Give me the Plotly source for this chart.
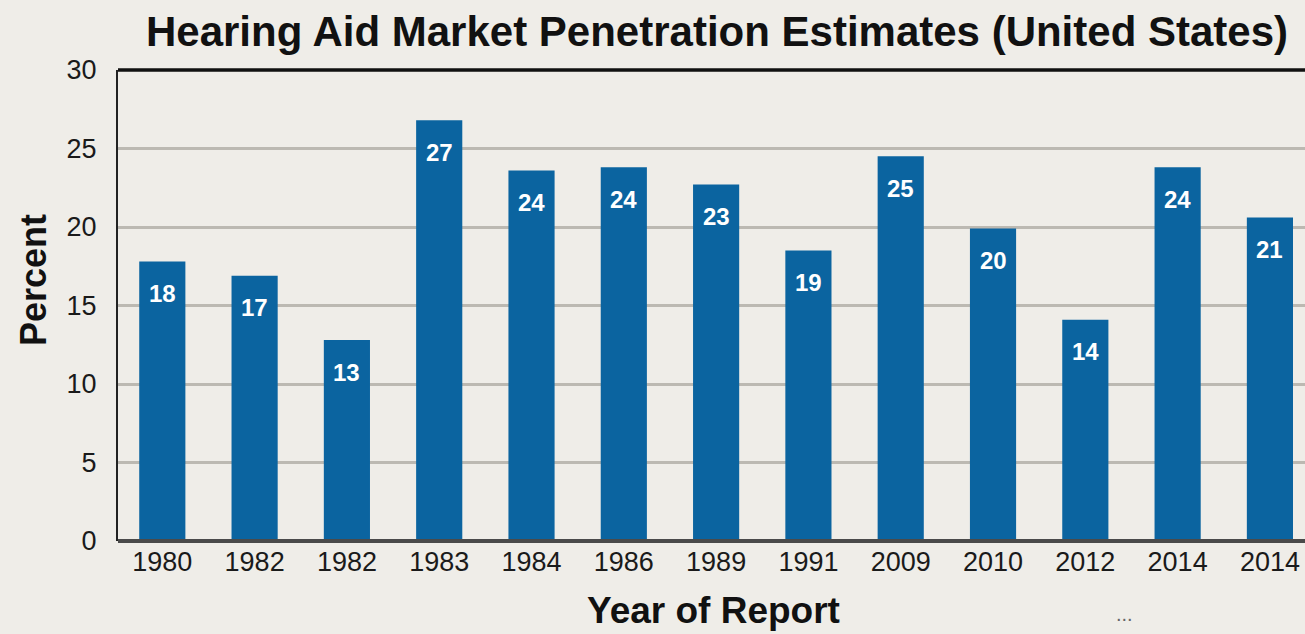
import plotly.graph_objects as go

# data
years = ['1980', '1982', '1982', '1983', '1984', '1986', '1989', '1991', '2009', '2010', '2012', '2014', '2014']
heights = [17.8, 16.9, 12.8, 26.8, 23.6, 23.8, 22.7, 18.5, 24.5, 19.9, 14.1, 23.8, 20.6]
labels = ['18', '17', '13', '27', '24', '24', '23', '19', '25', '20', '14', '24', '21']

pos = list(range(len(years)))  # years repeat, so bars sit on index positions

bg = '#efede8'
blue = '#0b64a0'

fig = go.Figure()
fig.add_trace(go.Bar(x=pos, y=heights, width=0.5,
                     marker=dict(color=blue, line=dict(width=0)),
                     hoverinfo='skip', showlegend=False))

# value labels just inside the top of each bar
for p, h, t in zip(pos, heights, labels):
    fig.add_annotation(x=p, y=h, text=t, showarrow=False,
                       yanchor='middle', yshift=-32,
                       font=dict(family='Liberation Sans Narrow, Liberation Sans, Arial', size=24,
                                 color='white', weight='bold'))

# thick black border along the top of the plot (paper refs so it isn't clipped)
fig.add_shape(type='line', xref='paper', yref='paper', x0=0, x1=1, y0=1, y1=1,
              line=dict(color='#111111', width=3.5))

fig.update_layout(
    width=1305, height=634,
    paper_bgcolor=bg, plot_bgcolor=bg,
    margin=dict(l=118, r=0, t=70, b=93),
    title=dict(text='<b>Hearing Aid Market Penetration Estimates (United States)</b>',
               x=717 / 1305, xanchor='center', xref='container',
               y=1 - 31 / 634, yanchor='middle', yref='container',
               font=dict(family='Liberation Sans, Arial', size=42, color='#111111')),
    font=dict(family='Liberation Sans, Arial', color='#222222'),
)

fig.update_xaxes(range=[-0.48, 12.38], tickmode='array', tickvals=pos, ticktext=years,
                 showgrid=False, zeroline=False, showline=False,
                 ticks='', ticklabelstandoff=2,
                 tickfont=dict(size=27, color='#1a1a1a'))
fig.update_yaxes(range=[0, 30], tickvals=[0, 5, 10, 15, 20, 25, 30],
                 showgrid=True, gridcolor='#bcb9b2', gridwidth=3,
                 zeroline=False, showline=True, linecolor='#222222', linewidth=2,
                 ticks='', ticklabelstandoff=14,
                 tickfont=dict(size=27, color='#1a1a1a'))

# bottom axis line (drawn over the bars' base)
fig.add_shape(type='line', xref='paper', yref='paper', x0=0, x1=1, y0=0, y1=0,
              line=dict(color='#4a4a4a', width=4))

fig.add_annotation(text='<b>Percent</b>', xref='paper', yref='paper',
                   x=-85 / 1187, y=(541 - 280) / 471, textangle=-90,
                   showarrow=False, xanchor='center', yanchor='middle',
                   font=dict(size=36, color='#111111'))
fig.add_annotation(text='<b>Year of Report</b>', xref='paper', yref='paper',
                   x=(714 - 118) / 1187, y=-(610 - 541) / 471,
                   showarrow=False, xanchor='center', yanchor='middle',
                   font=dict(size=37, color='#111111'))
fig.add_annotation(text='...', xref='paper', yref='paper',
                   x=(1124 - 118) / 1187, y=-(614 - 541) / 471,
                   showarrow=False, xanchor='center', yanchor='middle',
                   font=dict(size=20, color='#666666'))

fig.write_html('out.html', config={'displayModeBar': False},
               post_script="document.body.style.margin='0';document.body.style.background='#efede8';")
